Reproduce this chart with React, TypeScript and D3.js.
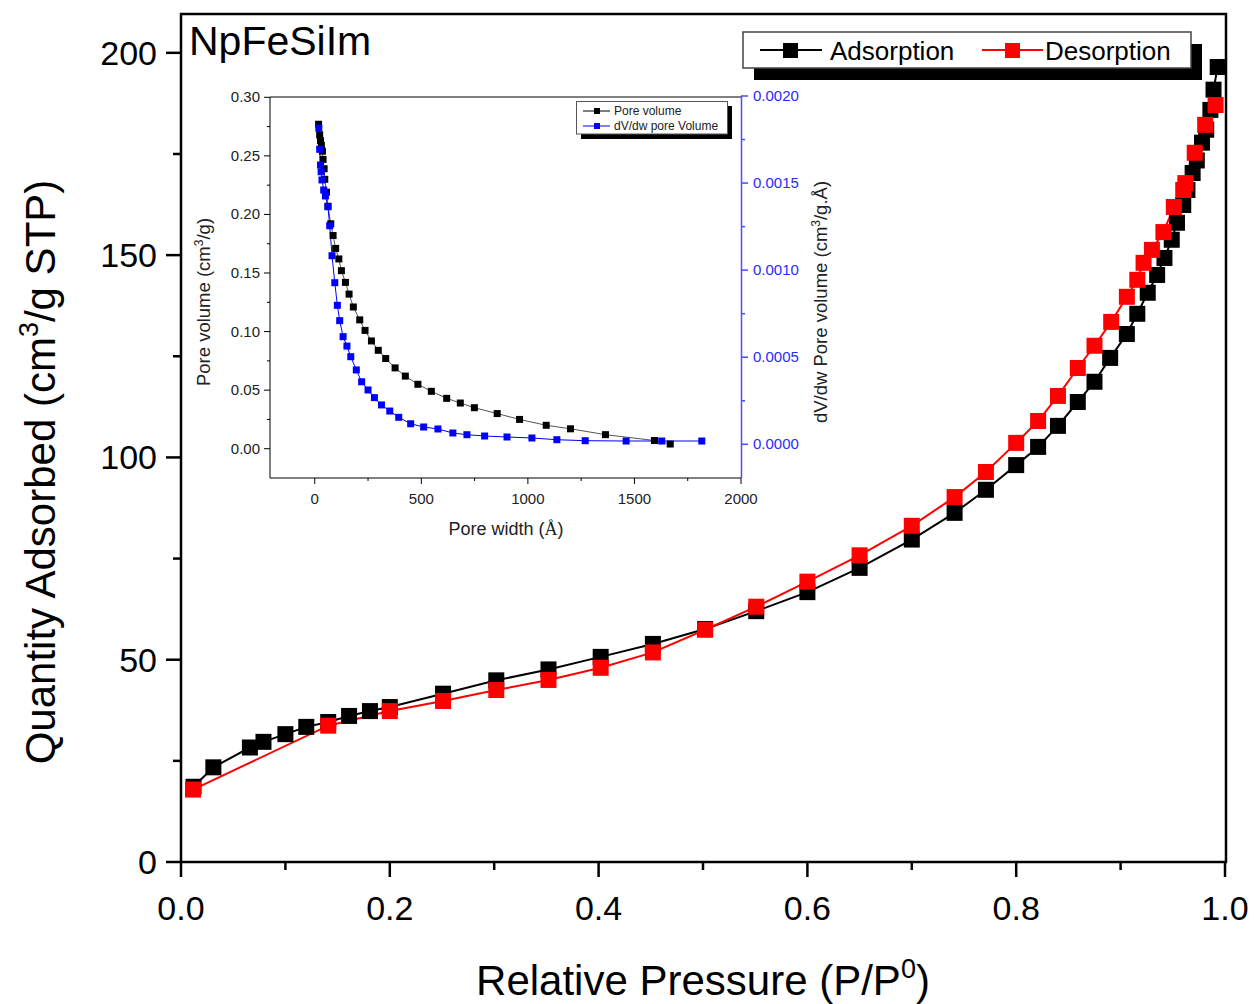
import React from 'react';
import * as d3 from 'd3';

// isotherm, main chart
const adsP = [0.012, 0.031, 0.066, 0.079, 0.1, 0.12, 0.141, 0.161, 0.181, 0.2, 0.251, 0.302, 0.352, 0.402, 0.452, 0.502, 0.551, 0.6, 0.65, 0.7, 0.741, 0.771, 0.8, 0.821, 0.84, 0.859, 0.875, 0.89, 0.906, 0.916, 0.926, 0.935, 0.942, 0.949, 0.954, 0.96, 0.964, 0.969, 0.973, 0.978, 0.982, 0.986, 0.989, 0.993];
const adsV = [18.6, 23.4, 28.3, 29.7, 31.6, 33.4, 34.6, 36.1, 37.3, 38.3, 41.6, 44.9, 47.6, 50.7, 53.9, 57.6, 62.0, 66.7, 72.7, 79.7, 86.3, 92.0, 98.1, 102.6, 107.8, 113.7, 118.7, 124.6, 130.5, 135.5, 140.7, 145.1, 149.3, 153.8, 158.0, 162.4, 166.1, 170.3, 173.4, 177.8, 181.0, 185.9, 190.9, 196.5];
const desP = [0.991, 0.981, 0.971, 0.962, 0.96, 0.951, 0.941, 0.93, 0.922, 0.916, 0.906, 0.891, 0.875, 0.859, 0.84, 0.821, 0.8, 0.771, 0.741, 0.7, 0.65, 0.6, 0.551, 0.502, 0.452, 0.402, 0.352, 0.302, 0.251, 0.2, 0.141, 0.0115];
const desV = [187.1, 182.2, 175.3, 167.8, 166.1, 161.9, 155.7, 151.3, 148.1, 143.9, 139.7, 133.5, 127.6, 122.1, 115.2, 109.0, 103.6, 96.4, 90.2, 83.1, 75.8, 69.3, 63.1, 57.4, 51.8, 48.0, 45.0, 42.5, 39.8, 37.3, 33.7, 17.9];

const xTicks = [0, 0.2, 0.4, 0.6, 0.8, 1.0];
const xMinor = [0.1, 0.3, 0.5, 0.7, 0.9];
const yTicks = [0, 50, 100, 150, 200];
const yMinor = [25, 75, 125, 175];

// inset: pore size distribution
const poreW = [18, 23, 27, 31, 36, 39, 44, 47, 55, 62, 75, 86, 98, 113, 125, 144, 161, 181, 211, 236, 266, 298, 333, 377, 425, 484, 547, 619, 683, 749, 856, 961, 1086, 1200, 1364, 1594, 1668];
const poreV = [0.277, 0.268, 0.263, 0.259, 0.254, 0.247, 0.239, 0.230, 0.219, 0.207, 0.192, 0.182, 0.171, 0.162, 0.152, 0.142, 0.132, 0.121, 0.110, 0.101, 0.092, 0.084, 0.077, 0.069, 0.062, 0.055, 0.049, 0.043, 0.039, 0.035, 0.030, 0.025, 0.020, 0.017, 0.012, 0.007, 0.004];
const dvW = [19, 23, 27, 30, 34, 42, 50, 62, 70, 81, 94, 106, 117, 133, 151, 169, 195, 220, 250, 280, 313, 352, 394, 450, 511, 578, 648, 714, 797, 902, 1019, 1136, 1269, 1461, 1628, 1816];
const dvV = [0.001815, 0.001694, 0.001604, 0.001565, 0.001518, 0.00146, 0.001426, 0.001364, 0.001255, 0.001083, 0.000928, 0.000798, 0.00071, 0.000618, 0.000564, 0.000503, 0.000427, 0.000359, 0.000312, 0.000268, 0.000226, 0.000191, 0.000155, 0.000118, 0.0000993, 0.0000879, 0.0000649, 0.0000551, 0.0000476, 0.0000419, 0.0000362, 0.0000264, 0.0000207, 0.0000189, 0.0000189, 0.0000189];

const ixTicks = [0, 500, 1000, 1500, 2000];
const ixMinor = [250, 750, 1250, 1750];
const iyTicks = [0, 0.05, 0.1, 0.15, 0.2, 0.25, 0.3];
const iyMinor = [0.025, 0.075, 0.125, 0.175, 0.225, 0.275];
const irTicks = [0, 0.0005, 0.001, 0.0015, 0.002];
const irMinor = [0.00025, 0.00075, 0.00125, 0.00175];

const FONT = "'Liberation Sans', Arial, sans-serif";
const BLUE = '#0000ff';
const AXBLUE = '#4b4bff';

const x = d3.scaleLinear().domain([0, 1]).range([181, 1225]);
const y = d3.scaleLinear().domain([0, 209.6]).range([862, 14]);

const ix = d3.scaleLinear().domain([-210, 2000]).range([270, 741]);
const iy = d3.scaleLinear().domain([-0.025, 0.3]).range([478, 97.3]);
const ir = d3.scaleLinear().domain([-0.0001935, 0.002]).range([478, 96]);

const line = d3.line<[number, number]>();

export default function App() {
  const ads = adsP.map((p, i) => [x(p), y(adsV[i])] as [number, number]);
  const des = desP.map((p, i) => [x(p), y(desV[i])] as [number, number]);
  const pv = poreW.map((w, i) => [ix(w), iy(poreV[i])] as [number, number]);
  const dv = dvW.map((w, i) => [ix(w), ir(dvV[i])] as [number, number]);
  const ms = 16;
  const im = 7;

  return (
    <svg width={1255} height={1004} style={{ position: 'absolute', left: 0, top: 0, background: '#fff' }} fontFamily={FONT}>
      {/* main frame */}
      <rect x={181} y={14} width={1045} height={848} fill="none" stroke="#000" strokeWidth={2.5} />

      {/* main x axis */}
      {xTicks.map(t => (
        <g key={'xt' + t}>
          <line x1={x(t)} x2={x(t)} y1={862} y2={877} stroke="#000" strokeWidth={2.5} />
          <text x={x(t)} y={920} fontSize={34} textAnchor="middle">{t.toFixed(1)}</text>
        </g>
      ))}
      {xMinor.map(t => (
        <line key={'xm' + t} x1={x(t)} x2={x(t)} y1={862} y2={870} stroke="#000" strokeWidth={2.5} />
      ))}
      {/* main y axis */}
      {yTicks.map(t => (
        <g key={'yt' + t}>
          <line x1={166} x2={181} y1={y(t)} y2={y(t)} stroke="#000" strokeWidth={2.5} />
          <text x={157} y={y(t) + 12} fontSize={34} textAnchor="end">{t}</text>
        </g>
      ))}
      {yMinor.map(t => (
        <line key={'ym' + t} x1={173} x2={181} y1={y(t)} y2={y(t)} stroke="#000" strokeWidth={2.5} />
      ))}

      <text x={703} y={995} fontSize={42} textAnchor="middle">
        Relative Pressure (P/P<tspan dy={-17} fontSize={27}>0</tspan><tspan dy={17}>)</tspan>
      </text>
      <text transform="translate(55,472) rotate(-90)" fontSize={42} textAnchor="middle">
        Quantity Adsorbed (cm<tspan dy={-17} fontSize={27}>3</tspan><tspan dy={17}>/g STP)</tspan>
      </text>

      <text x={189} y={55} fontSize={41}>NpFeSiIm</text>

      {/* isotherm series */}
      <path d={line(ads) || ''} fill="none" stroke="#000" strokeWidth={2} />
      <path d={line(des) || ''} fill="none" stroke="#ff0000" strokeWidth={2} />
      {ads.map((d, i) => (
        <rect key={'a' + i} x={d[0] - ms / 2} y={d[1] - ms / 2} width={ms} height={ms} fill="#000" />
      ))}
      {des.map((d, i) => (
        <rect key={'d' + i} x={d[0] - ms / 2} y={d[1] - ms / 2} width={ms} height={ms} fill="#ff0000" />
      ))}

      {/* main legend */}
      <rect x={754} y={44} width={448} height={36} fill="#000" />
      <rect x={743} y={32} width={448} height={36} fill="#fff" stroke="#444" strokeWidth={1.5} />
      <line x1={760} x2={822} y1={50} y2={50} stroke="#000" strokeWidth={2} />
      <rect x={783} y={43} width={15} height={15} fill="#000" />
      <text x={830} y={60} fontSize={26}>Adsorption</text>
      <line x1={982} x2={1043} y1={50} y2={50} stroke="#ff0000" strokeWidth={2} />
      <rect x={1005} y={43} width={15} height={15} fill="#ff0000" />
      <text x={1045} y={60} fontSize={26}>Desorption</text>

      {/* inset */}
      <g>
        <line x1={270} x2={741} y1={97} y2={97} stroke="#000" strokeWidth={1} />
        <line x1={270} x2={741} y1={478} y2={478} stroke="#000" strokeWidth={1} />
        <line x1={270} x2={270} y1={97} y2={478} stroke="#000" strokeWidth={1} />
        <line x1={741.5} x2={741.5} y1={96} y2={478} stroke={AXBLUE} strokeWidth={1.5} />

        {ixTicks.map(t => (
          <g key={'ixt' + t}>
            <line x1={ix(t)} x2={ix(t)} y1={478} y2={484} stroke="#000" />
            <text x={ix(t)} y={504} fontSize={15} fill="#222" textAnchor="middle">{t}</text>
          </g>
        ))}
        {ixMinor.map(t => (
          <line key={'ixm' + t} x1={ix(t)} x2={ix(t)} y1={478} y2={481} stroke="#000" />
        ))}
        {iyTicks.map(t => (
          <g key={'iyt' + t}>
            <line x1={264} x2={270} y1={iy(t)} y2={iy(t)} stroke="#000" />
            <text x={260} y={iy(t) + 5} fontSize={15} fill="#222" textAnchor="end">{t.toFixed(2)}</text>
          </g>
        ))}
        {iyMinor.map(t => (
          <line key={'iym' + t} x1={267} x2={270} y1={iy(t)} y2={iy(t)} stroke="#000" />
        ))}
        {irTicks.map(t => (
          <g key={'irt' + t}>
            <line x1={741} x2={748} y1={ir(t)} y2={ir(t)} stroke={AXBLUE} strokeWidth={1.5} />
            <text x={753} y={ir(t) + 5} fontSize={15} fill="#2a2aff">{t.toFixed(4)}</text>
          </g>
        ))}
        {irMinor.map(t => (
          <line key={'irm' + t} x1={741} x2={745} y1={ir(t)} y2={ir(t)} stroke={AXBLUE} strokeWidth={1.5} />
        ))}

        <text x={506} y={535} fontSize={18} fill="#222" textAnchor="middle">
          Pore width (<tspan fontFamily="'Liberation Serif', 'Times New Roman', serif">Å</tspan>)
        </text>
        <text transform="translate(210,302) rotate(-90)" fontSize={18.5} fill="#222" textAnchor="middle">
          Pore volume (cm<tspan dy={-7} fontSize={12}>3</tspan><tspan dy={7}>/g)</tspan>
        </text>
        <text transform="translate(827,302) rotate(-90)" fontSize={18.5} fill="#222" textAnchor="middle">
          dV/dw Pore volume (cm<tspan dy={-7} fontSize={12}>3</tspan><tspan dy={7}>/g.Å)</tspan>
        </text>

        <path d={line(pv) || ''} fill="none" stroke="#555" strokeWidth={1} />
        <path d={line(dv) || ''} fill="none" stroke={BLUE} strokeWidth={1} />
        {pv.map((d, i) => (
          <rect key={'p' + i} x={d[0] - im / 2} y={d[1] - im / 2} width={im} height={im} fill="#000" />
        ))}
        {dv.map((d, i) => (
          <rect key={'v' + i} x={d[0] - im / 2} y={d[1] - im / 2} width={im} height={im} fill={BLUE} />
        ))}

        {/* inset legend */}
        <rect x={581} y={106} width={151} height={33} fill="#000" />
        <rect x={576.5} y={101.5} width={151} height={32.5} fill="#fff" stroke="#555" strokeWidth={1} />
        <line x1={583} x2={610} y1={111} y2={111} stroke="#000" />
        <rect x={594} y={108} width={6} height={6} fill="#000" />
        <text x={614} y={115} fontSize={12} fill="#222">Pore volume</text>
        <line x1={583} x2={610} y1={126} y2={126} stroke={BLUE} />
        <rect x={594} y={123} width={6} height={6} fill={BLUE} />
        <text x={614} y={130} fontSize={12} fill="#222">dV/dw pore Volume</text>
      </g>
    </svg>
  );
}
